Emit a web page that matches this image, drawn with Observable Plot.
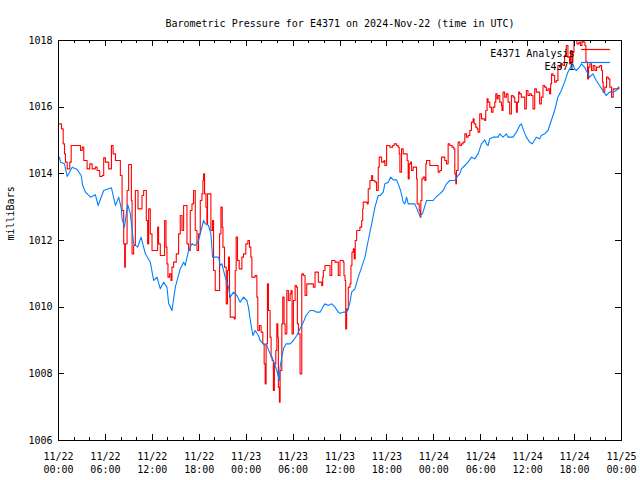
<!DOCTYPE html>
<html><head><meta charset="utf-8">
<script src="https://cdn.jsdelivr.net/npm/d3@7"></script>
<script src="https://cdn.jsdelivr.net/npm/@observablehq/plot@0.6"></script>
<style>body{margin:0;background:#fff} svg{display:block}</style>
</head><body><div id="chart"></div>
<script>
const title = "Barometric Pressure for E4371 on 2024-Nov-22 (time in UTC)";
const yLabel = "milliBars";
const seriesNames = ["E4371 Analysis", "E4371"];
const seriesColors = ["#ff0000", "#0080ff"];
const startTime = Date.UTC(2024, 10, 22);
const spanHours = 72;
const yTicks = [1006, 1008, 1010, 1012, 1014, 1016, 1018];
const majorTickHours = [0, 6, 12, 18, 24, 30, 36, 42, 48, 54, 60, 66, 72];
const minorTickHours = [2, 4, 8, 10, 14, 16, 20, 22, 26, 28, 32, 34, 38, 40, 44, 46, 50, 52, 56, 58, 62, 64, 68, 70];

// [hours since 2024-11-22 00:00 UTC, pressure in mbar]
const analysisSeries = [
[0.13,1015.5],[0.38,1015.35],[0.6,1014.9],[0.77,1014.6],[0.89,1014.35],[1.11,1014.15],[1.31,1014.15],[1.44,1014.35],[1.62,1014.85],[2.39,1014.85],
[2.81,1014.7],[3.03,1014.8],[3.23,1014.4],[3.66,1014.15],[4.0,1014.3],[4.3,1014.15],[4.72,1014.2],[4.94,1014.1],[5.27,1013.92],[5.58,1013.95],
[5.78,1014.48],[6.0,1014.35],[6.42,1014.15],[6.64,1014.15],[6.77,1014.85],[6.98,1014.6],[7.28,1014.4],[7.79,1014.4],[7.91,1013.95],[8.13,1012.9],
[8.34,1011.9],[8.46,1011.2],[8.55,1011.9],[8.77,1013.5],[8.97,1014.28],[9.28,1014.28],[9.32,1013.2],[9.41,1011.6],[9.61,1011.85],[9.83,1013.5],
[10.05,1013.5],[10.17,1012.95],[10.56,1012.95],[10.68,1013.35],[10.89,1013.5],[11.11,1013.5],[11.23,1012.6],[11.4,1011.9],[11.53,1012.95],[11.74,1012.2],
[11.96,1011.7],[12.51,1011.7],[12.68,1012.4],[12.8,1011.9],[13.02,1011.55],[13.32,1011.55],[13.57,1012.6],[13.75,1011.8],[13.87,1011.3],[14.0,1010.9],
[14.2,1011.0],[14.39,1010.8],[14.51,1011.2],[14.72,1011.35],[15.06,1011.6],[15.36,1012.2],[15.57,1012.75],[15.79,1012.3],[16.0,1013.05],[16.34,1013.05],
[16.43,1011.9],[16.63,1011.7],[16.85,1012.9],[17.07,1013.1],[17.27,1013.5],[17.49,1012.3],[17.71,1011.7],[17.91,1012.2],[18.13,1013.2],[18.34,1013.4],
[18.47,1013.8],[18.55,1014.0],[18.68,1013.4],[18.86,1013.0],[18.98,1012.5],[19.06,1013.4],[19.4,1013.4],[19.49,1012.3],[19.7,1012.6],[19.83,1011.1],
[20.04,1010.5],[20.47,1010.5],[20.6,1012.2],[20.77,1013.0],[20.94,1012.4],[21.03,1011.8],[21.23,1011.2],[21.45,1010.1],[21.61,1011.1],[21.74,1011.5],
[21.87,1010.3],[21.96,1009.7],[22.47,1009.65],[22.6,1011.1],[22.72,1012.1],[22.89,1011.4],[23.11,1011.15],[23.45,1011.5],[23.66,1011.6],[23.96,1011.9],
[24.22,1012.0],[24.42,1011.8],[24.6,1011.5],[24.73,1010.9],[25.15,1010.95],[25.37,1010.3],[25.49,1009.3],[25.7,1009.45],[25.91,1009.25],[26.13,1008.9],
[26.3,1008.3],[26.43,1007.7],[26.55,1008.9],[26.72,1010.7],[26.85,1009.9],[27.06,1009.1],[27.19,1008.5],[27.32,1008.4],[27.48,1007.5],[27.61,1008.3],
[27.79,1008.7],[27.92,1009.5],[28.05,1009.1],[28.12,1007.6],[28.25,1007.15],[28.34,1008.1],[28.56,1009.5],[28.68,1010.3],[28.85,1009.5],[28.98,1009.2],
[29.2,1010.5],[29.4,1010.2],[29.62,1010.4],[29.74,1010.5],[29.87,1009.2],[30.04,1010.2],[30.26,1010.65],[30.43,1010.6],[30.55,1009.5],[30.68,1009.2],
[30.89,1008.0],[31.11,1011.0],[31.32,1010.95],[31.53,1010.35],[31.75,1010.7],[32.17,1010.7],[32.59,1010.6],[32.81,1011.05],[33.23,1010.75],[33.66,1010.65],
[33.79,1010.9],[33.87,1011.1],[34.08,1011.25],[34.72,1010.95],[34.94,1011.4],[35.36,1011.35],[35.78,1010.95],[36.0,1011.4],[36.42,1011.35],[36.51,1010.95],
[36.64,1010.8],[36.73,1009.35],[36.85,1009.95],[37.06,1010.6],[37.28,1010.7],[37.4,1011.25],[37.53,1011.65],[37.7,1011.75],[37.82,1011.45],[37.95,1012.0],
[38.13,1012.3],[38.34,1012.3],[38.55,1012.4],[38.77,1012.6],[38.9,1012.95],[38.97,1013.15],[39.32,1013.15],[39.48,1013.1],[39.61,1013.55],[39.83,1013.8],
[40.05,1013.95],[40.17,1013.8],[40.47,1013.75],[40.68,1013.5],[40.89,1014.2],[41.02,1014.5],[41.32,1014.35],[41.62,1014.4],[41.74,1014.25],[41.96,1014.85],
[42.38,1014.8],[42.73,1014.85],[42.93,1014.9],[43.24,1014.85],[43.44,1014.8],[43.57,1014.6],[43.66,1014.05],[43.87,1014.75],[44.08,1014.6],[44.42,1014.6],
[44.59,1014.4],[44.72,1013.85],[44.85,1014.3],[45.02,1014.35],[45.15,1014.1],[45.36,1014.2],[45.58,1014.2],[45.79,1013.85],[45.87,1013.1],[46.13,1012.9],
[46.25,1012.7],[46.34,1013.2],[46.47,1013.85],[46.64,1013.9],[46.85,1013.8],[46.98,1014.3],[47.07,1014.4],[47.49,1014.25],[48.13,1014.25],[48.55,1014.05],
[48.77,1014.1],[48.98,1014.5],[49.4,1014.4],[49.62,1014.3],[49.83,1014.9],[50.04,1014.85],[50.34,1014.8],[50.55,1014.75],[50.68,1014.0],[50.81,1013.7],
[50.89,1014.1],[51.1,1014.95],[51.32,1014.85],[51.53,1014.9],[51.74,1014.95],[51.96,1015.2],[52.17,1015.1],[52.38,1015.15],[52.6,1015.3],[52.81,1015.55],
[53.02,1015.65],[53.15,1015.5],[53.36,1015.4],[53.53,1015.35],[53.66,1015.25],[53.87,1015.8],[54.09,1015.65],[54.51,1015.6],[54.64,1015.9],[54.81,1016.25],
[54.94,1016.15],[55.15,1016.0],[55.37,1015.85],[55.57,1016.0],[55.79,1016.15],[55.92,1016.4],[56.09,1016.25],[56.22,1016.35],[56.43,1016.15],[56.65,1016.05],
[56.72,1015.9],[56.85,1016.45],[57.06,1016.3],[57.28,1016.4],[57.49,1016.15],[57.7,1015.8],[57.92,1016.35],[58.13,1016.3],[58.34,1016.15],[58.56,1015.85],
[58.68,1016.15],[58.85,1016.45],[58.98,1016.4],[59.19,1016.3],[59.4,1016.3],[59.62,1015.95],[59.83,1016.5],[60.04,1016.35],[60.26,1016.4],[60.47,1016.35],
[60.68,1015.95],[60.9,1016.55],[61.11,1016.45],[61.32,1016.45],[61.53,1016.1],[61.75,1016.3],[61.96,1016.65],[62.17,1016.6],[62.39,1016.5],[62.6,1016.55],
[62.81,1016.4],[62.94,1016.7],[63.06,1017.0],[63.23,1016.95],[63.45,1016.75],[63.66,1016.8],[63.87,1017.25],[64.09,1017.2],[64.3,1017.3],[64.51,1017.25],
[64.72,1017.55],[64.94,1017.85],[65.15,1017.5],[65.36,1017.3],[65.49,1017.7],[65.66,1017.35],[65.79,1017.65],[65.92,1018.0],[66.13,1018.0],[66.3,1017.9],
[66.43,1017.9],[66.56,1017.95],[66.74,1017.85],[66.94,1018.0],[67.1,1017.95],[67.32,1017.85],[67.45,1017.35],[67.66,1016.85],[67.79,1017.2],[67.96,1017.3],
[68.17,1017.1],[68.38,1017.25],[68.6,1017.1],[68.81,1017.2],[69.23,1017.25],[69.45,1017.1],[69.57,1016.75],[69.66,1016.45],[69.87,1016.6],[70.09,1016.9],
[70.3,1016.85],[70.51,1016.6],[70.73,1016.3],[70.94,1016.55],[71.36,1016.55],[71.66,1016.6]
];

const stationSeries = [
[0.13,1014.5],[0.26,1014.35],[0.77,1014.3],[1.11,1013.92],[1.75,1014.2],[2.39,1014.13],[2.9,1013.95],[3.1,1013.65],[3.45,1013.45],[4.09,1013.3],
[4.72,1013.37],[5.07,1013.05],[5.78,1013.5],[6.77,1013.58],[7.28,1013.05],[7.7,1013.3],[8.04,1012.95],[8.13,1012.65],[8.43,1012.4],[8.85,1013.08],
[9.19,1012.8],[9.61,1011.9],[10.12,1011.8],[10.56,1012.1],[11.11,1011.6],[11.74,1011.35],[12.17,1010.8],[12.6,1010.9],[13.02,1010.55],[13.44,1010.75],
[13.87,1010.6],[14.08,1010.12],[14.51,1009.9],[14.94,1010.6],[15.57,1011.15],[16.0,1011.35],[16.21,1011.25],[16.63,1011.7],[17.07,1011.9],[17.49,1011.85],
[17.91,1012.0],[18.34,1012.4],[18.55,1012.6],[18.77,1012.5],[19.19,1012.45],[19.49,1012.2],[19.7,1011.5],[20.04,1011.5],[20.47,1011.5],[20.68,1011.25],
[20.9,1011.3],[21.32,1010.9],[21.74,1010.6],[21.96,1010.3],[22.38,1010.45],[22.81,1010.35],[23.23,1010.15],[23.66,1010.3],[24.08,1010.2],[24.29,1010.0],
[24.6,1009.5],[24.86,1009.15],[25.15,1009.3],[25.57,1009.15],[25.79,1009.0],[26.21,1008.9],[26.64,1008.85],[27.06,1008.6],[27.48,1008.4],[27.92,1008.1],
[28.25,1007.8],[28.34,1008.2],[28.56,1008.5],[28.77,1008.75],[29.11,1008.9],[29.62,1008.9],[30.04,1009.0],[30.47,1009.15],[30.68,1009.25],[30.98,1009.4],
[31.32,1009.55],[31.66,1009.75],[32.17,1009.9],[32.59,1009.9],[33.02,1009.85],[33.45,1009.85],[33.79,1010.0],[34.08,1010.1],[34.5,1010.05],[34.94,1010.1],
[35.36,1010.0],[35.78,1009.85],[36.0,1009.82],[36.42,1009.85],[36.85,1009.85],[37.06,1009.95],[37.28,1010.15],[37.49,1010.45],[37.91,1010.55],[38.34,1010.9],
[38.77,1011.2],[39.19,1011.5],[39.61,1012.0],[40.05,1012.5],[40.47,1013.0],[40.89,1013.35],[41.11,1013.35],[41.53,1013.45],[41.74,1013.7],[42.17,1013.75],
[42.47,1013.9],[42.81,1013.82],[43.24,1013.82],[43.44,1013.7],[43.75,1013.5],[44.08,1013.15],[44.3,1013.1],[44.51,1013.3],[44.72,1013.1],[45.58,1013.1],
[46.0,1012.85],[46.21,1012.75],[46.55,1012.8],[47.07,1013.2],[47.91,1013.2],[48.34,1013.32],[48.77,1013.4],[49.19,1013.5],[49.62,1013.7],[50.04,1013.8],
[50.68,1013.8],[51.1,1013.95],[51.32,1014.0],[51.53,1014.15],[51.96,1014.25],[52.38,1014.35],[52.81,1014.5],[53.23,1014.45],[53.66,1014.6],[53.87,1014.75],
[54.09,1014.9],[54.51,1015.02],[54.72,1014.9],[54.94,1014.85],[55.15,1015.05],[55.57,1015.1],[56.22,1015.1],[56.43,1015.2],[56.85,1015.1],[57.28,1015.2],
[57.49,1015.1],[58.13,1015.1],[58.56,1015.25],[58.98,1015.45],[59.19,1015.5],[59.4,1015.35],[59.83,1015.1],[60.26,1014.95],[60.6,1014.9],[61.11,1015.1],
[61.53,1015.05],[61.75,1015.15],[62.17,1015.2],[62.6,1015.3],[63.02,1015.6],[63.45,1015.9],[63.87,1016.3],[64.3,1016.5],[64.72,1016.75],[65.15,1017.05],
[65.58,1017.25],[65.79,1017.3],[66.0,1017.15],[66.21,1017.1],[66.64,1017.2],[66.85,1017.3],[67.28,1017.2],[67.7,1017.0],[67.91,1016.9],[68.34,1017.0],
[68.77,1016.8],[69.19,1016.65],[69.62,1016.5],[70.04,1016.35],[70.47,1016.45],[70.89,1016.45],[71.32,1016.5],[71.62,1016.6]
];

const toDate = h => new Date(startTime + h * 3600e3);
const fmt = d3.utcFormat("%m/%d\n%H:%M");
const marginLeft = 58, marginRight = 19, marginTop = 40, marginBottom = 40;
const W = 640 - marginLeft - marginRight;
const H = 480 - marginTop - marginBottom;
const majorDates = majorTickHours.map(toDate);
const minorDates = minorTickHours.map(toDate);

const chart = Plot.plot({
  width: 640, height: 480,
  marginLeft, marginRight, marginTop, marginBottom,
  style: {fontFamily: "'DejaVu Sans Mono', monospace", fontSize: "10px", background: "white", color: "black"},
  x: {type: "utc", domain: [toDate(0), toDate(spanHours)]},
  y: {domain: [yTicks[0], yTicks[yTicks.length - 1]]},
  marks: [
    Plot.line(analysisSeries, {x: d => toDate(d[0]), y: d => d[1], stroke: seriesColors[0], strokeWidth: 1.1, curve: "step-after"}),
    Plot.line(stationSeries, {x: d => toDate(d[0]), y: d => d[1], stroke: seriesColors[1], strokeWidth: 1.1}),
    Plot.ruleX(majorDates, {x: d => d, insetTop: H - 6, stroke: "black", shapeRendering: "crispEdges"}),
    Plot.ruleX(majorDates, {x: d => d, insetBottom: H - 6, stroke: "black", shapeRendering: "crispEdges"}),
    Plot.ruleX(minorDates, {x: d => d, insetTop: H - 3, stroke: "black", shapeRendering: "crispEdges"}),
    Plot.ruleX(minorDates, {x: d => d, insetBottom: H - 3, stroke: "black", shapeRendering: "crispEdges"}),
    Plot.ruleY(yTicks, {y: d => d, insetRight: W - 6, stroke: "black", shapeRendering: "crispEdges"}),
    Plot.ruleY(yTicks, {y: d => d, insetLeft: W - 6, stroke: "black", shapeRendering: "crispEdges"}),
    Plot.frame({stroke: "black", shapeRendering: "crispEdges"}),
    Plot.axisX(majorDates, {tickSize: 0, tickPadding: 10, tickFormat: fmt, lineHeight: 1.3, label: null}),
    Plot.axisY(yTicks, {tickSize: 0, tickPadding: 6, tickFormat: d => String(d), label: null}),
    Plot.text([title], {frameAnchor: "top", dy: -21}),
    Plot.text([yLabel], {frameAnchor: "left", dx: -48, rotate: -90}),
    Plot.text([seriesNames[0]], {frameAnchor: "top-right", dx: -47, dy: 9, textAnchor: "end"}),
    Plot.text([seriesNames[1]], {frameAnchor: "top-right", dx: -47, dy: 22, textAnchor: "end"})
  ]
});
document.getElementById("chart").appendChild(chart);

const svg = d3.select(chart);
[[49.5, seriesColors[0]], [62.5, seriesColors[1]]].forEach(([yy, c]) => {
  svg.append("line").attr("x1", 581).attr("x2", 610).attr("y1", yy).attr("y2", yy)
    .style("stroke", c).style("stroke-width", "1.2px");
});
</script>
</body></html>
